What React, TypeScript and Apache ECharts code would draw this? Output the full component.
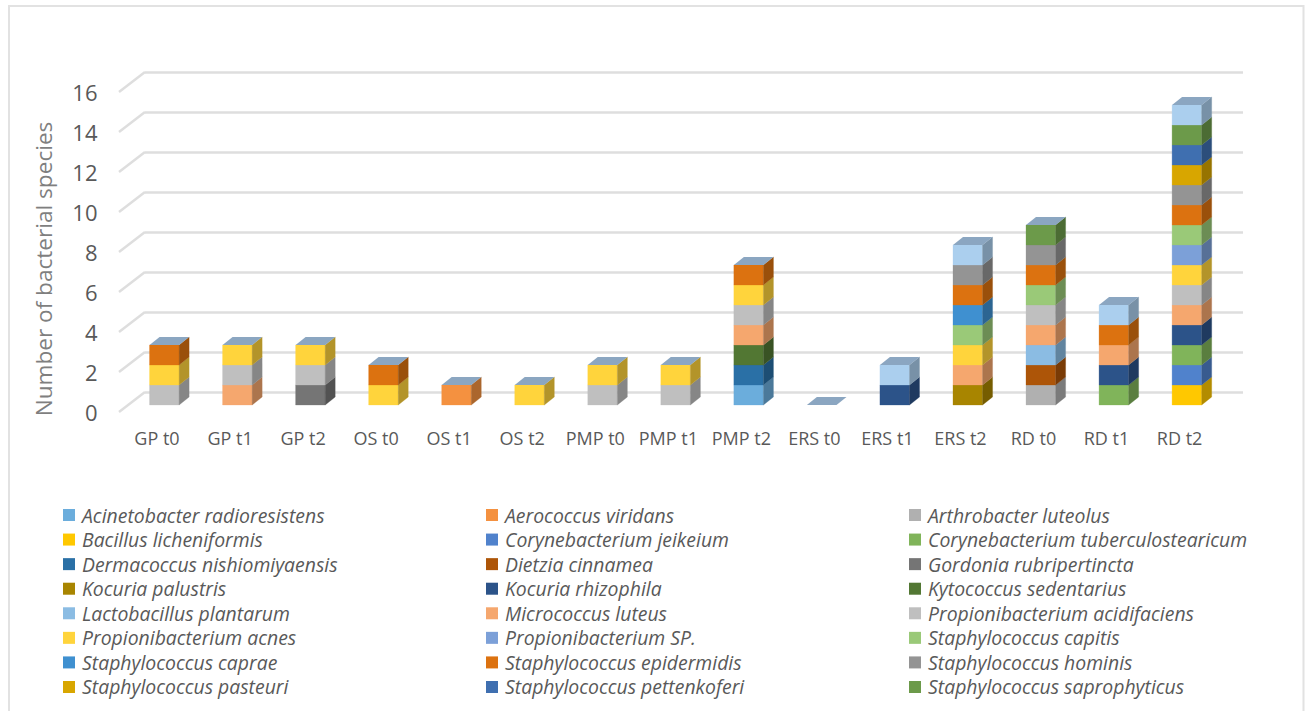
import React, { useEffect, useRef } from "react";
import * as echarts from "echarts";

const categories = ["GP t0","GP t1","GP t2","OS t0","OS t1","OS t2","PMP t0","PMP t1","PMP t2","ERS t0","ERS t1","ERS t2","RD t0","RD t1","RD t2"];
const yTicks = [0,2,4,6,8,10,12,14,16];

const speciesNames = [
  "Acinetobacter radioresistens","Aerococcus viridans","Arthrobacter luteolus",
  "Bacillus licheniformis","Corynebacterium jeikeium","Corynebacterium tuberculostearicum",
  "Dermacoccus nishiomiyaensis","Dietzia cinnamea","Gordonia rubripertincta",
  "Kocuria palustris","Kocuria rhizophila","Kytococcus sedentarius",
  "Lactobacillus plantarum","Micrococcus luteus","Propionibacterium acidifaciens",
  "Propionibacterium acnes","Propionibacterium SP.","Staphylococcus capitis",
  "Staphylococcus caprae","Staphylococcus epidermidis","Staphylococcus hominis",
  "Staphylococcus pasteuri","Staphylococcus pettenkoferi","Staphylococcus saprophyticus",
  "Unlisted species",
];
const speciesColors = [
  "#6BADDC","#F49140","#B0B0B0","#FFC800","#5082CC","#80B45A","#2A70A6","#AD5508","#757575",
  "#A88500","#2C5389","#527733","#8BBCE3","#F5A76E","#BFBFBF","#FFD43C","#7CA0D8","#9AC978",
  "#3F90D0","#DC7210","#949494","#D8A600","#3F6FB0","#6C9A4A","#ABCFEE",
];

const acinetobacter   = [0,0,0,0,0,0,0,0,1,0,0,0,0,0,0];
const aerococcus      = [0,0,0,0,1,0,0,0,0,0,0,0,0,0,0];
const arthrobacter    = [0,0,0,0,0,0,0,0,0,0,0,0,1,0,0];
const bacillus        = [0,0,0,0,0,0,0,0,0,0,0,0,0,0,1];
const jeikeium        = [0,0,0,0,0,0,0,0,0,0,0,0,0,0,1];
const tuberculo       = [0,0,0,0,0,0,0,0,0,0,0,0,0,1,1];
const dermacoccus     = [0,0,0,0,0,0,0,0,1,0,0,0,0,0,0];
const dietzia         = [0,0,0,0,0,0,0,0,0,0,0,0,1,0,0];
const gordonia        = [0,0,1,0,0,0,0,0,0,0,0,0,0,0,0];
const palustris       = [0,0,0,0,0,0,0,0,0,0,0,1,0,0,0];
const rhizophila      = [0,0,0,0,0,0,0,0,0,0,1,0,0,1,1];
const kytococcus      = [0,0,0,0,0,0,0,0,1,0,0,0,0,0,0];
const lactobacillus   = [0,0,0,0,0,0,0,0,0,0,0,0,1,0,0];
const micrococcus     = [0,1,0,0,0,0,0,0,1,0,0,1,1,1,1];
const acidifaciens    = [1,1,1,0,0,0,1,1,1,0,0,0,1,0,1];
const acnes           = [1,1,1,1,0,1,1,1,1,0,0,1,0,0,1];
const propSp          = [0,0,0,0,0,0,0,0,0,0,0,0,0,0,1];
const capitis         = [0,0,0,0,0,0,0,0,0,0,0,1,1,0,1];
const caprae          = [0,0,0,0,0,0,0,0,0,0,0,1,0,0,0];
const epidermidis     = [1,0,0,1,0,0,0,0,1,0,0,1,1,1,1];
const hominis         = [0,0,0,0,0,0,0,0,0,0,0,1,1,0,1];
const pasteuri        = [0,0,0,0,0,0,0,0,0,0,0,0,0,0,1];
const pettenkoferi    = [0,0,0,0,0,0,0,0,0,0,0,0,0,0,1];
const saprophyticus   = [0,0,0,0,0,0,0,0,0,0,0,0,1,0,1];
const unlisted        = [0,0,0,0,0,0,0,0,0,0,1,1,0,1,1];

const seriesValues = [
  acinetobacter,aerococcus,arthrobacter,bacillus,jeikeium,tuberculo,dermacoccus,dietzia,gordonia,
  palustris,rhizophila,kytococcus,lactobacillus,micrococcus,acidifaciens,acnes,propSp,capitis,
  caprae,epidermidis,hominis,pasteuri,pettenkoferi,saprophyticus,unlisted,
];

const LID = "#8BA6C1";
const TEXT = "#595959";
const FONT = "'Open Sans'";
const GRID_COLOR = "#DEDEDE";

function shade(hex: string, f: number) {
  const n = parseInt(hex.slice(1), 16);
  const c = (s: number) => Math.round(((n >> s) & 255) * f);
  return `rgb(${c(16)},${c(8)},${c(0)})`;
}

function makeOption() {
  const running = categories.map(() => 0);
  const stackSeries = speciesNames.map((name, si) => {
    const data = categories.map((_, i) => {
      const base = running[i];
      running[i] += seriesValues[si][i];
      return [i, base, running[i]];
    });
    const color = speciesColors[si];
    const isLast = si === speciesNames.length - 1;
    return {
      type: "custom",
      name,
      silent: true,
      clip: false,
      z: 5,
      itemStyle: { color },
      xAxisIndex: 0,
      yAxisIndex: 0,
      encode: { x: 0, y: [1, 2] },
      data,
      renderItem: (_p: any, api: any) => {
        const i = api.value(0);
        const lo = api.value(1);
        const hi = api.value(2);
        if (lo === hi && !isLast) return null;
        const band = api.size([1, 0])[0];
        const w = band * 0.405;
        const cx = api.coord([i, 0])[0] + band * 0.1;
        const x0 = cx - w / 2;
        const x1 = cx + w / 2;
        const yLo = api.coord([i, lo])[1] - 7;
        const yHi = api.coord([i, hi])[1] - 7;
        const dx = 10;
        const dy = 8;
        const children: any[] = [];
        if (hi > lo) {
          children.push({
            type: "polygon",
            shape: { points: [[x0, yLo], [x1, yLo], [x1, yHi], [x0, yHi]] },
            style: { fill: color, stroke: color, lineWidth: 0.3 },
          });
          children.push({
            type: "polygon",
            shape: { points: [[x1, yLo], [x1 + dx, yLo - dy], [x1 + dx, yHi - dy], [x1, yHi]] },
            style: { fill: shade(color, 0.7), stroke: shade(color, 0.7), lineWidth: 0.3 },
          });
        }
        if (isLast) {
          children.push({
            type: "polygon",
            shape: { points: [[x0, yHi], [x1, yHi], [x1 + dx, yHi - dy], [x0 + dx, yHi - dy]] },
            style: { fill: LID },
          });
        }
        return { type: "group", children };
      },
    };
  });

  const diagonals = {
    type: "custom",
    name: "gridDepth",
    silent: true,
    clip: false,
    z: 1,
    xAxisIndex: 1,
    yAxisIndex: 1,
    encode: { x: 0, y: 1 },
    data: yTicks.map((v) => [0, v]),
    renderItem: (_p: any, api: any) => {
      const p = api.coord([api.value(0), api.value(1)]);
      return {
        type: "line",
        shape: { x1: p[0], y1: p[1], x2: p[0] - 26, y2: p[1] + 20 },
        style: { stroke: GRID_COLOR, lineWidth: 2.5 },
      };
    },
  };

  const legendBase = {
    orient: "vertical" as const,
    top: 503,
    icon: "rect",
    itemWidth: 12,
    itemHeight: 12,
    itemGap: 0.57,
    selectedMode: false,
    padding: 0,
    textStyle: { fontFamily: FONT, fontSize: 19.4, fontStyle: "italic" as const, color: TEXT, lineHeight: 20, padding: [4, 0, 0, 2] },
  };
  const column = (k: number) => speciesNames.filter((_, i) => i < 24 && i % 3 === k);

  return {
    animation: false,
    backgroundColor: "#fff",
    grid: [
      { left: 120.5, width: 1095.6, top: 92, height: 320, containLabel: false },
      { left: 145, width: 1098, top: 72, height: 320, containLabel: false },
    ],
    xAxis: [
      {
        type: "category", gridIndex: 0, data: categories,
        axisLine: { show: false }, axisTick: { show: false },
        axisLabel: { interval: 0, margin: 17, fontFamily: FONT, fontSize: 18, color: TEXT },
      },
      { type: "value", gridIndex: 1, min: 0, max: 1, show: false },
    ],
    yAxis: [
      {
        type: "value", gridIndex: 0, min: 0, max: 16, interval: 2,
        axisLine: { show: false }, axisTick: { show: false }, splitLine: { show: false },
        axisLabel: { margin: 23, fontFamily: FONT, fontSize: 22, color: TEXT },
      },
      {
        type: "value", gridIndex: 1, min: 0, max: 16, interval: 2,
        axisLine: { show: false }, axisTick: { show: false }, axisLabel: { show: false },
        splitLine: { show: true, lineStyle: { color: GRID_COLOR, width: 2.5 } },
      },
    ],
    legend: [
      { ...legendBase, left: 63, data: column(0) },
      { ...legendBase, left: 486, data: column(1) },
      { ...legendBase, left: 909, data: column(2) },
    ],
    graphic: [
      {
        type: "rect", silent: true, z: -1,
        shape: { x: 9, y: 6, width: 1294.5, height: 720 },
        style: { fill: "none", stroke: "#E2E2E2", lineWidth: 2 },
      },
      {
        type: "text", silent: true, x: 43, y: 269, rotation: Math.PI / 2,
        style: { text: "Number of bacterial species", fontFamily: FONT, fontSize: 22.6, fill: "#7F7F7F", align: "center", verticalAlign: "middle" },
      },
    ],
    series: [diagonals, ...stackSeries],
  };
}

export default function App() {
  const ref = useRef<HTMLDivElement>(null);
  useEffect(() => {
    document.body.style.margin = "0";
    const chart = echarts.init(ref.current!, undefined, { renderer: "svg" });
    chart.setOption(makeOption() as any);
    return () => chart.dispose();
  }, []);
  return <div ref={ref} style={{ width: 1309, height: 711 }} />;
}
